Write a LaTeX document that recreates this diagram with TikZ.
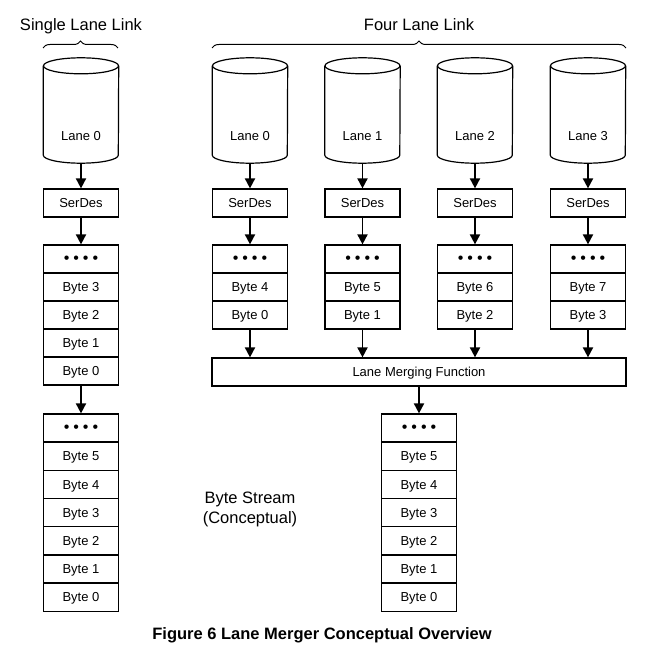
\documentclass[tikz,border=0pt]{standalone}
\usepackage{fontspec}
\setmainfont{Liberation Sans}
\usetikzlibrary{arrows.meta,decorations.pathreplacing}

\newcommand{\fourdots}{\fontsize{16}{16}\selectfont\textbullet\hspace{4pt}\textbullet\hspace{4pt}\textbullet\hspace{4pt}\textbullet}
\newcommand{\drum}[1]{%
  \draw[line width=1.2pt] (#1.north west) -- (#1.south west)
    arc[start angle=180,end angle=360,x radius=37.5pt,y radius=8pt] -- (#1.north east);
  \draw[line width=1.2pt] (#1.north) ellipse[x radius=37.5pt,y radius=8pt];}

\tikzset{
  cell/.style={draw,line width=1.2pt,minimum width=75pt,minimum height=28pt,inner sep=0pt,
    text height=9.4pt,text depth=0pt,font=\fontsize{13}{15}\selectfont},
  txt/.style={inner sep=0pt,text height=9.4pt,text depth=0pt,font=\fontsize{13}{15}\selectfont},
  lane/.style={minimum width=75pt,minimum height=89pt,inner sep=0pt},
  flow/.style={line width=1.8pt,-{Triangle[length=10pt,width=10pt]}},
  title/.style={inner sep=0pt,text height=11.8pt,text depth=0pt,font=\fontsize{16.5}{20}\selectfont},
  grp/.style={decorate,decoration={brace,amplitude=7pt},line width=1pt}
}

\begin{document}
\begin{tikzpicture}[x=1pt,y=-1pt]
  \useasboundingbox (0,0) rectangle (656,652);

  % single lane
  \node[title] (single) at (81,24.5) {Single Lane Link};
  \draw[grp] (43,48) -- (118,48);
  \node[lane] (s0) at (81,110.5) {};
  \drum{s0}
  \node[txt] (s0txt) at (81,136) {Lane 0};
  \node[cell] (ssd) at (81,203) {SerDes};
  \foreach \t [count=\i from 0] in {\fourdots,Byte 3,Byte 2,Byte 1,Byte 0}
    \node[cell] (sa\i) at (81,259+28*\i) {\t};
  \foreach \t [count=\i from 0] in {\fourdots,Byte 5,Byte 4,Byte 3,Byte 2,Byte 1,Byte 0}
    \node[cell] (sb\i) at (81,428+28.2*\i) {\t};
  \draw[flow,shorten <=8pt] (s0.south) -- (ssd);
  \draw[flow] (ssd) -- (sa0);
  \draw[flow] (sa4) -- (sb0);

  % four lanes
  \node[title] (four) at (419,24.5) {Four Lane Link};
  \draw[grp] (212,48) -- (626,48);
  \node[cell,minimum width=414pt] (merge) at (419,372) {Lane Merging Function};
  \foreach \n/\x/\hi/\lo in {0/250/4/0,1/362.5/5/1,2/475/6/2,3/588/7/3} {
    \node[lane] (l\n) at (\x,110.5) {};
    \drum{l\n}
    \node[txt] (l\n txt) at (\x,136) {Lane \n};
    \node[cell] (sd\n) at (\x,203) {SerDes};
    \node[cell] (d\n) at (\x,259) {\fourdots};
    \node[cell] (h\n) at (\x,287) {Byte \hi};
    \node[cell] (b\n) at (\x,315) {Byte \lo};
    \draw[flow,shorten <=8pt] (l\n.south) -- (sd\n);
    \draw[flow] (sd\n) -- (d\n);
    \draw[flow] (b\n) -- (b\n |- merge.north);
  }
  \foreach \t [count=\i from 0] in {\fourdots,Byte 5,Byte 4,Byte 3,Byte 2,Byte 1,Byte 0}
    \node[cell] (o\i) at (419,428+28.2*\i) {\t};
  \draw[flow] (merge) -- (o0);

  \node[inner sep=0pt,align=center,font=\fontsize{16.5}{20}\selectfont] (stream) at (250,509) {Byte Stream\\(Conceptual)};
  \node[inner sep=0pt,text height=11.8pt,text depth=0pt,font=\bfseries\fontsize{16.5}{20}\selectfont] (caption) at (322,634) {Figure 6 Lane Merger Conceptual Overview};
\end{tikzpicture}
\end{document}
